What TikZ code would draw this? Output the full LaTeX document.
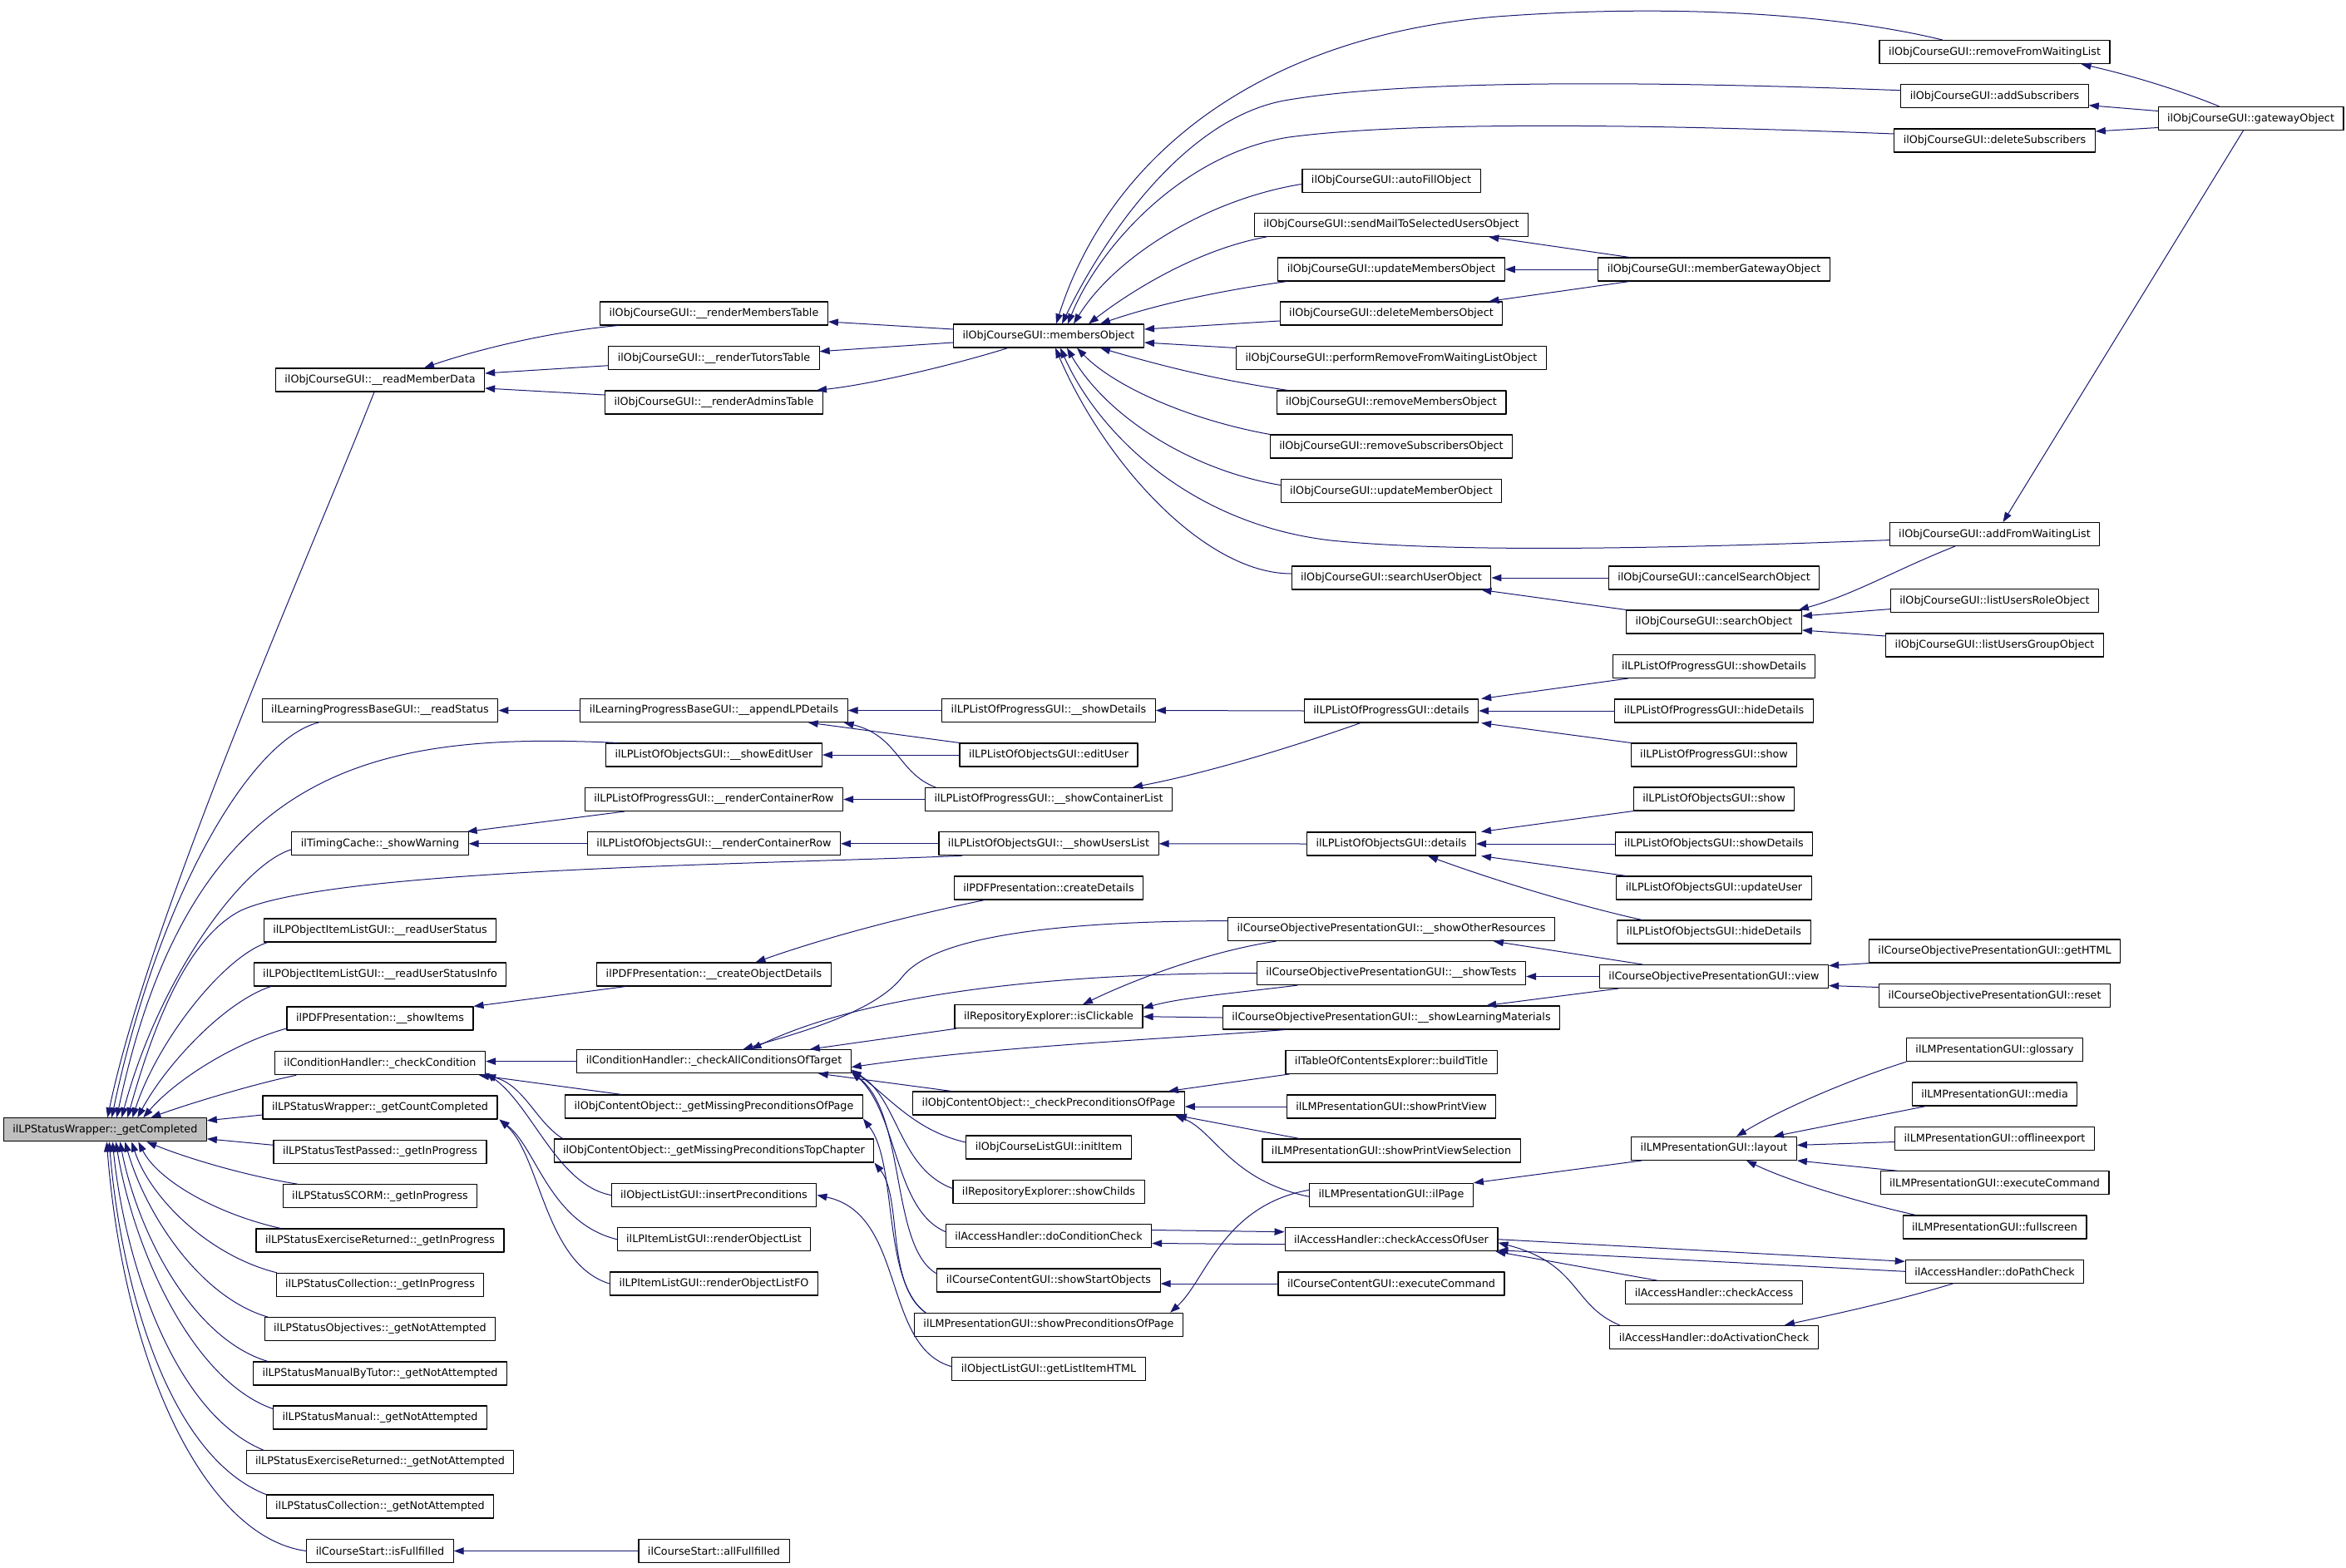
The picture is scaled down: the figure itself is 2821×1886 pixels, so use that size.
\documentclass[tikz,border=0pt]{standalone}
\usepackage{fontspec}
\setmainfont{DejaVu Sans}
\usetikzlibrary{arrows.meta}
\definecolor{callblue}{HTML}{191970}

\begin{document}
\begin{tikzpicture}[line cap=round,line join=round,x=1pt,y=-1pt,
    fn/.style={draw=black, fill=white, line width=1.1pt, inner xsep=11pt, inner ysep=0pt, minimum height=28pt, font=\fontsize{12.75pt}{15pt}\selectfont},
    root/.style={fn, fill=gray!50},
    call/.style={draw=callblue, line width=1pt, -{Triangle[length=12pt,width=8.5pt]}}]

    \useasboundingbox (0,0) rectangle (2821,1886);

    % root
    \draw (126.3,1358.8) node[root] (GC) {ilLPStatusWrapper::\_getCompleted};

    % first column of callers
    \draw (457,457) node[fn] (RMD) {ilObjCourseGUI::\_\_readMemberData};
    \draw (457,854.5) node[fn] (RS) {ilLearningProgressBaseGUI::\_\_readStatus};
    \draw (457,1014.8) node[fn] (SW) {ilTimingCache::\_showWarning};
    \draw (457,1119) node[fn] (RUS) {ilLPObjectItemListGUI::\_\_readUserStatus};
    \draw (457,1172) node[fn] (RUSI) {ilLPObjectItemListGUI::\_\_readUserStatusInfo};
    \draw (457,1225) node[fn] (SI) {ilPDFPresentation::\_\_showItems};
    \draw (457,1278.8) node[fn] (CC) {ilConditionHandler::\_checkCondition};
    \draw (457,1332) node[fn] (GCC) {ilLPStatusWrapper::\_getCountCompleted};
    \draw (457,1385.3) node[fn] (TPIP) {ilLPStatusTestPassed::\_getInProgress};
    \draw (457,1438.7) node[fn] (SCIP) {ilLPStatusSCORM::\_getInProgress};
    \draw (457,1492) node[fn] (ERIP) {ilLPStatusExerciseReturned::\_getInProgress};
    \draw (457,1545.3) node[fn] (COIP) {ilLPStatusCollection::\_getInProgress};
    \draw (457,1598.5) node[fn] (OBNA) {ilLPStatusObjectives::\_getNotAttempted};
    \draw (457,1652) node[fn] (MTNA) {ilLPStatusManualByTutor::\_getNotAttempted};
    \draw (457,1705) node[fn] (MANA) {ilLPStatusManual::\_getNotAttempted};
    \draw (457,1758.6) node[fn] (ERNA) {ilLPStatusExerciseReturned::\_getNotAttempted};
    \draw (457,1812) node[fn] (CONA) {ilLPStatusCollection::\_getNotAttempted};
    \draw (457,1865.5) node[fn] (ISF) {ilCourseStart::isFullfilled};

    % second column
    \draw (858.5,377) node[fn] (RMT) {ilObjCourseGUI::\_\_renderMembersTable};
    \draw (858.5,430.7) node[fn] (RTT) {ilObjCourseGUI::\_\_renderTutorsTable};
    \draw (858.5,484) node[fn] (RAT) {ilObjCourseGUI::\_\_renderAdminsTable};
    \draw (858.5,854.5) node[fn] (ALP) {ilLearningProgressBaseGUI::\_\_appendLPDetails};
    \draw (858.5,908) node[fn] (SEU) {ilLPListOfObjectsGUI::\_\_showEditUser};
    \draw (858.5,961.5) node[fn] (PRCR) {ilLPListOfProgressGUI::\_\_renderContainerRow};
    \draw (858.5,1014.8) node[fn] (ORCR) {ilLPListOfObjectsGUI::\_\_renderContainerRow};
    \draw (858.5,1172) node[fn] (COD) {ilPDFPresentation::\_\_createObjectDetails};
    \draw (858.5,1276.6) node[fn] (CACT) {ilConditionHandler::\_checkAllConditionsOfTarget};
    \draw (858.5,1331) node[fn] (MPP) {ilObjContentObject::\_getMissingPreconditionsOfPage};
    \draw (858.5,1384) node[fn] (MPT) {ilObjContentObject::\_getMissingPreconditionsTopChapter};
    \draw (858.5,1437.5) node[fn] (IP) {ilObjectListGUI::insertPreconditions};
    \draw (858.5,1490.7) node[fn] (ROL) {ilLPItemListGUI::renderObjectList};
    \draw (858.5,1544) node[fn] (ROLF) {ilLPItemListGUI::renderObjectListFO};
    \draw (858.5,1865.5) node[fn] (AFF) {ilCourseStart::allFullfilled};

    % third column
    \draw (1261,404) node[fn] (MO) {ilObjCourseGUI::membersObject};
    \draw (1261,854.5) node[fn] (PSDP) {ilLPListOfProgressGUI::\_\_showDetails};
    \draw (1261,908) node[fn] (EU) {ilLPListOfObjectsGUI::editUser};
    \draw (1261,961.5) node[fn] (SCL) {ilLPListOfProgressGUI::\_\_showContainerList};
    \draw (1261,1014.8) node[fn] (SUL) {ilLPListOfObjectsGUI::\_\_showUsersList};
    \draw (1261,1068) node[fn] (CD) {ilPDFPresentation::createDetails};
    \draw (1261,1222.7) node[fn] (ICL) {ilRepositoryExplorer::isClickable};
    \draw (1261,1327) node[fn] (CPP) {ilObjContentObject::\_checkPreconditionsOfPage};
    \draw (1261,1380) node[fn] (II) {ilObjCourseListGUI::initItem};
    \draw (1261,1433.5) node[fn] (SCH) {ilRepositoryExplorer::showChilds};
    \draw (1261,1486.5) node[fn] (DCC) {ilAccessHandler::doConditionCheck};
    \draw (1261,1540) node[fn] (SSO) {ilCourseContentGUI::showStartObjects};
    \draw (1261,1593.3) node[fn] (SPP) {ilLMPresentationGUI::showPreconditionsOfPage};
    \draw (1261,1646.7) node[fn] (GLI) {ilObjectListGUI::getListItemHTML};

    % fourth column
    \draw (1673,217.4) node[fn] (AFO) {ilObjCourseGUI::autoFillObject};
    \draw (1673,270.4) node[fn] (SMO) {ilObjCourseGUI::sendMailToSelectedUsersObject};
    \draw (1673,324) node[fn] (UMO) {ilObjCourseGUI::updateMembersObject};
    \draw (1673,377) node[fn] (DMO) {ilObjCourseGUI::deleteMembersObject};
    \draw (1673,430.5) node[fn] (PRO) {ilObjCourseGUI::performRemoveFromWaitingListObject};
    \draw (1673,484) node[fn] (RMO) {ilObjCourseGUI::removeMembersObject};
    \draw (1673,537) node[fn] (RSO) {ilObjCourseGUI::removeSubscribersObject};
    \draw (1673,590.5) node[fn] (UMBO) {ilObjCourseGUI::updateMemberObject};
    \draw (1673,695) node[fn] (SUO) {ilObjCourseGUI::searchUserObject};
    \draw (1673,855) node[fn] (PD) {ilLPListOfProgressGUI::details};
    \draw (1673,1015) node[fn] (OD) {ilLPListOfObjectsGUI::details};
    \draw (1673,1117.6) node[fn] (SOR) {ilCourseObjectivePresentationGUI::\_\_showOtherResources};
    \draw (1673,1170.6) node[fn] (ST) {ilCourseObjectivePresentationGUI::\_\_showTests};
    \draw (1673,1224) node[fn] (SLM) {ilCourseObjectivePresentationGUI::\_\_showLearningMaterials};
    \draw (1673,1277.4) node[fn] (BT) {ilTableOfContentsExplorer::buildTitle};
    \draw (1673,1331) node[fn] (SPV) {ilLMPresentationGUI::showPrintView};
    \draw (1673,1384) node[fn] (SPVS) {ilLMPresentationGUI::showPrintViewSelection};
    \draw (1673,1437.3) node[fn] (ILP) {ilLMPresentationGUI::ilPage};
    \draw (1673,1490.7) node[fn] (CAU) {ilAccessHandler::checkAccessOfUser};
    \draw (1673,1544) node[fn] (CCE) {ilCourseContentGUI::executeCommand};

    % fifth column
    \draw (2061,324) node[fn] (MGO) {ilObjCourseGUI::memberGatewayObject};
    \draw (2061,695) node[fn] (CSO) {ilObjCourseGUI::cancelSearchObject};
    \draw (2061,748) node[fn] (SO) {ilObjCourseGUI::searchObject};
    \draw (2061,801.5) node[fn] (PSD) {ilLPListOfProgressGUI::showDetails};
    \draw (2061,855) node[fn] (PHD) {ilLPListOfProgressGUI::hideDetails};
    \draw (2061,908) node[fn] (PS) {ilLPListOfProgressGUI::show};
    \draw (2061,961) node[fn] (OS) {ilLPListOfObjectsGUI::show};
    \draw (2061,1015) node[fn] (OSD) {ilLPListOfObjectsGUI::showDetails};
    \draw (2061,1068) node[fn] (OUU) {ilLPListOfObjectsGUI::updateUser};
    \draw (2061,1121) node[fn] (OHD) {ilLPListOfObjectsGUI::hideDetails};
    \draw (2061,1174.5) node[fn] (VW) {ilCourseObjectivePresentationGUI::view};
    \draw (2061,1381.4) node[fn] (LAY) {ilLMPresentationGUI::layout};
    \draw (2061,1554.8) node[fn] (CA) {ilAccessHandler::checkAccess};
    \draw (2061,1608.3) node[fn] (DAC) {ilAccessHandler::doActivationCheck};

    % sixth column
    \draw (2398.5,62.5) node[fn] (RFW) {ilObjCourseGUI::removeFromWaitingList};
    \draw (2398.5,115.7) node[fn] (AS) {ilObjCourseGUI::addSubscribers};
    \draw (2398.5,169) node[fn] (DS) {ilObjCourseGUI::deleteSubscribers};
    \draw (2398.5,642.6) node[fn] (AFW) {ilObjCourseGUI::addFromWaitingList};
    \draw (2398.5,722.6) node[fn] (LURO) {ilObjCourseGUI::listUsersRoleObject};
    \draw (2398.5,776) node[fn] (LUGO) {ilObjCourseGUI::listUsersGroupObject};
    \draw (2398.5,1144) node[fn] (GH) {ilCourseObjectivePresentationGUI::getHTML};
    \draw (2398.5,1197.5) node[fn] (RST) {ilCourseObjectivePresentationGUI::reset};
    \draw (2398.5,1262.7) node[fn] (GLO) {ilLMPresentationGUI::glossary};
    \draw (2398.5,1316) node[fn] (MED) {ilLMPresentationGUI::media};
    \draw (2398.5,1369.5) node[fn] (OFE) {ilLMPresentationGUI::offlineexport};
    \draw (2398.5,1422.8) node[fn] (LEC) {ilLMPresentationGUI::executeCommand};
    \draw (2398.5,1476) node[fn] (FS) {ilLMPresentationGUI::fullscreen};
    \draw (2398.5,1529.3) node[fn] (DPC) {ilAccessHandler::doPathCheck};

    % last column
    \draw (2706.5,142.5) node[fn] (GWO) {ilObjCourseGUI::gatewayObject};

    % calls into the root
    \draw[call] ([xshift=-7pt]RMD.south) .. controls (380,650) and (180,1100) .. ([xshift=3pt]GC.north);
    \draw[call] ([xshift=-74pt]RS.south) .. controls (300,890) and (190,1080) .. ([xshift=8pt]GC.north);
    \draw[call] ([xshift=14pt]SEU.north west) .. controls (450,880) and (230,920) .. ([xshift=14pt]GC.north);
    \draw[call] ([yshift=-7pt]SW.west) .. controls (290,1040) and (190,1180) .. ([xshift=20pt]GC.north);
    \draw[call] ([xshift=28pt]SUL.south west) .. controls (900,1040) and (400,1045) .. (290,1095) .. controls (220,1130) and (180,1250) .. ([xshift=27pt]GC.north);
    \draw[call] ([xshift=5pt]RUS.south west) .. controls (270,1150) and (190,1250) .. ([xshift=33pt]GC.north);
    \draw[call] ([xshift=21pt]RUSI.south west) .. controls (270,1205) and (200,1280) .. ([xshift=39pt]GC.north);
    \draw[call] ([yshift=-12pt]SI.west) .. controls (280,1255) and (210,1300) .. ([xshift=46pt]GC.north);
    \draw[call] ([xshift=26pt]CC.south west) .. controls (300,1305) and (220,1330) .. ([xshift=55pt]GC.north);
    \draw[call] ([yshift=-9pt]GCC.west) -- ([yshift=11pt]GC.east);
    \draw[call] ([yshift=8pt]TPIP.west) -- ([yshift=-11pt]GC.east);
    \draw[call] ([xshift=18pt]SCIP.north west) .. controls (300,1415) and (230,1395) .. ([xshift=50pt]GC.south);
    \draw[call] ([xshift=30pt]ERIP.north west) .. controls (260,1460) and (190,1420) .. ([xshift=40pt]GC.south);
    \draw[call] ([xshift=1pt]COIP.north west) .. controls (250,1510) and (180,1440) .. ([xshift=32pt]GC.south);
    \draw[call] ([xshift=4pt]OBNA.north west) .. controls (240,1560) and (175,1460) .. ([xshift=24pt]GC.south);
    \draw[call] ([xshift=18pt]MTNA.north west) .. controls (230,1610) and (165,1480) .. ([xshift=18pt]GC.south);
    \draw[call] ([yshift=-4pt]MANA.north west) .. controls (230,1660) and (160,1500) .. ([xshift=13pt]GC.south);
    \draw[call] ([xshift=21pt]ERNA.north west) .. controls (210,1700) and (150,1520) .. ([xshift=9pt]GC.south);
    \draw[call] (CONA.north west) .. controls (200,1750) and (145,1540) .. ([xshift=5pt]GC.south);
    \draw[call] (ISF.west) .. controls (250,1850) and (150,1650) .. ([xshift=2pt]GC.south);

    % second column -> first column
    \draw[call] ([xshift=22pt]RMT.south west) .. controls (650,400) and (560,425) .. ([xshift=53pt]RMD.north);
    \draw[call] ([yshift=-9pt]RTT.west) -- ([yshift=8pt]RMD.east);
    \draw[call] ([yshift=9pt]RAT.west) -- ([yshift=-10pt]RMD.east);
    \draw[call] (ALP.west) -- (RS.east);
    \draw[call] ([xshift=48pt]PRCR.south west) -- ([xshift=-2pt]SW.north east);
    \draw[call] (ORCR.west) -- (SW.east);
    \draw[call] ([xshift=35pt]COD.south west) -- (SI.north east);
    \draw[call] (CACT.west) -- (CACT.west -| CC.east);
    \draw[call] ([xshift=-111pt]MPP.north) -- ([xshift=-8pt]CC.south east);
    \draw[call] ([xshift=11pt]MPT.north west) .. controls (645,1350) and (630,1305) .. (CC.south east);
    \draw[call] (IP.west) .. controls (670,1425) and (640,1330) .. ([yshift=3pt]CC.south east);
    \draw[call] (ROL.west) .. controls (660,1470) and (645,1380) .. ([xshift=2pt]GCC.south east);
    \draw[call] (ROLF.west) .. controls (655,1520) and (650,1390) .. ([xshift=2pt]GCC.south east);
    \draw[call] (AFF.west) -- (ISF.east);

    % third column -> second column
    \draw[call] ([yshift=8pt]MO.west) -- ([yshift=-10pt]RMT.east);
    \draw[call] ([yshift=-8pt]MO.west) -- ([yshift=8pt]RTT.east);
    \draw[call] ([xshift=-49pt]MO.south) .. controls (1150,438) and (1050,462) .. ([xshift=-8pt]RAT.north east);
    \draw[call] (PSDP.west) -- (ALP.east);
    \draw[call] (EU.north west) -- ([xshift=-48pt]ALP.south east);
    \draw[call] (EU.west) -- (SEU.east);
    \draw[call] ([xshift=13pt]SCL.north west) .. controls (1080,930) and (1080,885) .. ([xshift=-5pt]ALP.south east);
    \draw[call] (SCL.west) -- (PRCR.east);
    \draw[call] (SUL.west) -- (ORCR.east);
    \draw[call] ([xshift=37pt]CD.south west) .. controls (1100,1100) and (1000,1125) .. ([xshift=50pt]COD.north);
    \draw[call] ([xshift=2pt]ICL.south west) -- ([xshift=-50pt]CACT.north east);
    \draw[call] ([yshift=10pt]SOR.west) .. controls (1250,1108) and (1120,1130) .. (1085,1175) .. controls (1050,1220) and (950,1245) .. ([xshift=35pt]CACT.north);
    \draw[call] (ST.west) .. controls (1300,1170) and (1050,1190) .. ([xshift=45pt]CACT.north);
    \draw[call] ([xshift=75pt]SLM.south west) .. controls (1400,1250) and (1200,1258) .. ([yshift=-7pt]CACT.east);
    \draw[call] ([xshift=47pt]CPP.north west) -- ([xshift=-40pt]CACT.south east);
    \draw[call] ([yshift=6pt]II.west) .. controls (1100,1360) and (1070,1320) .. ([yshift=-10pt]CACT.east);
    \draw[call] ([yshift=4pt]SCH.west) .. controls (1080,1405) and (1080,1320) .. ([yshift=-11pt]CACT.east);
    \draw[call] ([yshift=5pt]DCC.west) .. controls (1075,1455) and (1080,1340) .. ([yshift=-12pt]CACT.east);
    \draw[call] ([yshift=8pt]SSO.west) .. controls (1070,1500) and (1090,1340) .. ([yshift=-13pt]CACT.east);
    \draw[call] ([xshift=14pt]SPP.north west) .. controls (1060,1540) and (1080,1400) .. (MPP.south east);
    \draw[call] ([xshift=14pt]SPP.north west) .. controls (1065,1545) and (1085,1440) .. (MPT.south east);
    \draw[call] ([yshift=3pt]GLI.west) .. controls (1060,1620) and (1090,1460) .. (IP.east);

    % fourth column (and the far ones) -> third column
    \draw[call] ([xshift=76pt]RFW.north west) .. controls (2200,15) and (2000,5) .. (1800,20) .. controls (1500,45) and (1330,200) .. ([xshift=9pt]MO.north);
    \draw[call] ([yshift=7pt]AS.west) .. controls (2000,98) and (1700,95) .. (1550,120) .. controls (1420,140) and (1320,300) .. ([xshift=16pt]MO.north);
    \draw[call] ([yshift=8pt]DS.west) .. controls (2000,150) and (1700,145) .. (1550,165) .. controls (1420,185) and (1320,300) .. ([xshift=23pt]MO.north);
    \draw[call] ([yshift=-4pt]AFO.west) .. controls (1450,240) and (1340,310) .. ([xshift=30pt]MO.north);
    \draw[call] ([xshift=15pt]SMO.south west) .. controls (1440,300) and (1360,350) .. ([xshift=48pt]MO.north);
    \draw[call] ([xshift=11pt]UMO.south west) .. controls (1450,352) and (1380,370) .. ([xshift=62pt]MO.north);
    \draw[call] ([yshift=-9pt]DMO.west) -- ([yshift=8pt]MO.east);
    \draw[call] ([yshift=12pt]PRO.west) -- ([yshift=-8pt]MO.east);
    \draw[call] ([xshift=14pt]RMO.north west) .. controls (1450,455) and (1380,435) .. ([xshift=62pt]MO.south);
    \draw[call] (RSO.north west) .. controls (1430,505) and (1340,465) .. ([xshift=34pt]MO.south);
    \draw[call] ([yshift=7pt]UMBO.west) .. controls (1430,565) and (1330,500) .. ([xshift=22pt]MO.south);
    \draw[call] ([yshift=-7pt]AFW.west) .. controls (2000,660) and (1750,665) .. (1600,650) .. controls (1430,630) and (1320,520) .. ([xshift=14pt]MO.south);
    \draw[call] ([yshift=5pt]SUO.west) .. controls (1450,690) and (1330,560) .. ([xshift=8pt]MO.south);
    \draw[call] (PD.west) -- (PSDP.east);
    \draw[call] ([xshift=-37pt]PD.south) .. controls (1550,900) and (1450,930) .. ([xshift=-48pt]SCL.north east);
    \draw[call] (OD.west) -- (SUL.east);
    \draw[call] ([xshift=58pt]SOR.south west) .. controls (1450,1145) and (1360,1180) .. ([xshift=41pt]ICL.north);
    \draw[call] ([xshift=49pt]ST.south west) .. controls (1480,1195) and (1420,1200) .. ([yshift=10pt]ICL.east);
    \draw[call] (SLM.west) -- (ICL.east);
    \draw[call] ([xshift=5pt]BT.south west) -- ([xshift=-20pt]CPP.north east);
    \draw[call] (SPV.west) -- (SPV.west -| CPP.east);
    \draw[call] ([xshift=45pt]SPVS.north west) -- ([xshift=-10pt]CPP.south east);
    \draw[call] ([yshift=-2pt]ILP.west) .. controls (1480,1420) and (1460,1360) .. ([xshift=-12pt]CPP.south east);
    \draw[call] ([yshift=6pt]ILP.west) .. controls (1470,1450) and (1450,1540) .. ([xshift=-16pt]SPP.north east);
    \draw[call] ([yshift=-6pt]CAU.west) -- ([yshift=-9pt]DCC.east);
    \draw[call] ([yshift=7pt]DCC.east) -- ([yshift=9pt]CAU.west);
    \draw[call] (CCE.west) -- (CCE.west -| SSO.east);

    % fifth column -> fourth column
    \draw[call] ([xshift=38pt]MGO.north west) -- ([xshift=-48pt]SMO.south east);
    \draw[call] (MGO.west) -- (UMO.east);
    \draw[call] ([xshift=38pt]MGO.south west) -- ([xshift=-17pt]DMO.north east);
    \draw[call] (CSO.west) -- (SUO.east);
    \draw[call] (SO.north west) -- ([xshift=-12pt]SUO.south east);
    \draw[call] ([xshift=19pt]PSD.south west) -- ([xshift=3pt]PD.north east);
    \draw[call] (PHD.west) -- (PD.east);
    \draw[call] (PS.north west) -- ([xshift=3pt]PD.south east);
    \draw[call] (OS.south west) -- ([xshift=6pt]OD.north east);
    \draw[call] (OSD.west) -- (OD.east);
    \draw[call] ([xshift=12pt]OUU.north west) -- ([xshift=6pt]OD.south east);
    \draw[call] ([xshift=30pt]OHD.north west) .. controls (1900,1090) and (1800,1060) .. ([xshift=44pt]OD.south);
    \draw[call] ([xshift=52pt]VW.north west) -- ([xshift=-74pt]SOR.south east);
    \draw[call] (VW.west) -- (VW.west -| ST.east);
    \draw[call] ([xshift=23pt]VW.south west) -- ([xshift=-89pt]SLM.north east);
    \draw[call] ([xshift=13pt]LAY.south west) -- (ILP.north east);
    \draw[call] ([xshift=39pt]CA.north west) -- ([xshift=-3pt]CAU.south east);
    \draw[call] ([xshift=12pt]DAC.north west) .. controls (1890,1570) and (1900,1520) .. ([yshift=-4pt]CAU.east);

    % sixth column -> fifth column
    \draw[call] ([xshift=79pt]AFW.south west) .. controls (2280,685) and (2230,715) .. ([xshift=-4pt]SO.north east);
    \draw[call] ([yshift=-10pt]LURO.west) -- ([yshift=7pt]SO.east);
    \draw[call] ([yshift=11pt]LUGO.west) -- ([yshift=-10pt]SO.east);
    \draw[call] (GH.south west) -- ([yshift=13pt]VW.east);
    \draw[call] ([yshift=10pt]RST.west) -- ([yshift=-11pt]VW.east);
    \draw[call] (GLO.south west) .. controls (2220,1300) and (2140,1335) .. ([xshift=27pt]LAY.north);
    \draw[call] ([xshift=17pt]MED.south west) -- ([xshift=-28pt]LAY.north east);
    \draw[call] ([yshift=-4pt]OFE.west) -- ([yshift=4pt]LAY.east);
    \draw[call] ([xshift=21pt]LEC.north west) -- (LAY.south east);
    \draw[call] ([xshift=16pt]FS.north west) .. controls (2230,1445) and (2150,1420) .. ([xshift=39pt]LAY.south);
    \draw[call] (CAU.east) -- ([yshift=12pt]DPC.west);
    \draw[call] (DPC.west) -- ([yshift=-13pt]CAU.east);
    \draw[call] ([xshift=-50pt]DPC.south) .. controls (2280,1565) and (2200,1582) .. ([xshift=85pt]DAC.north);

    % gateway -> sixth column
    \draw[call] ([xshift=-38pt]GWO.north) .. controls (2620,108) and (2560,90) .. ([xshift=-35pt]RFW.south east);
    \draw[call] ([yshift=9pt]GWO.west) -- ([yshift=-11pt]AS.east);
    \draw[call] ([yshift=-11pt]GWO.west) -- ([yshift=11pt]DS.east);
    \draw[call] ([xshift=-9pt]GWO.south) -- ([xshift=10pt]AFW.north);

\end{tikzpicture}
\end{document}
